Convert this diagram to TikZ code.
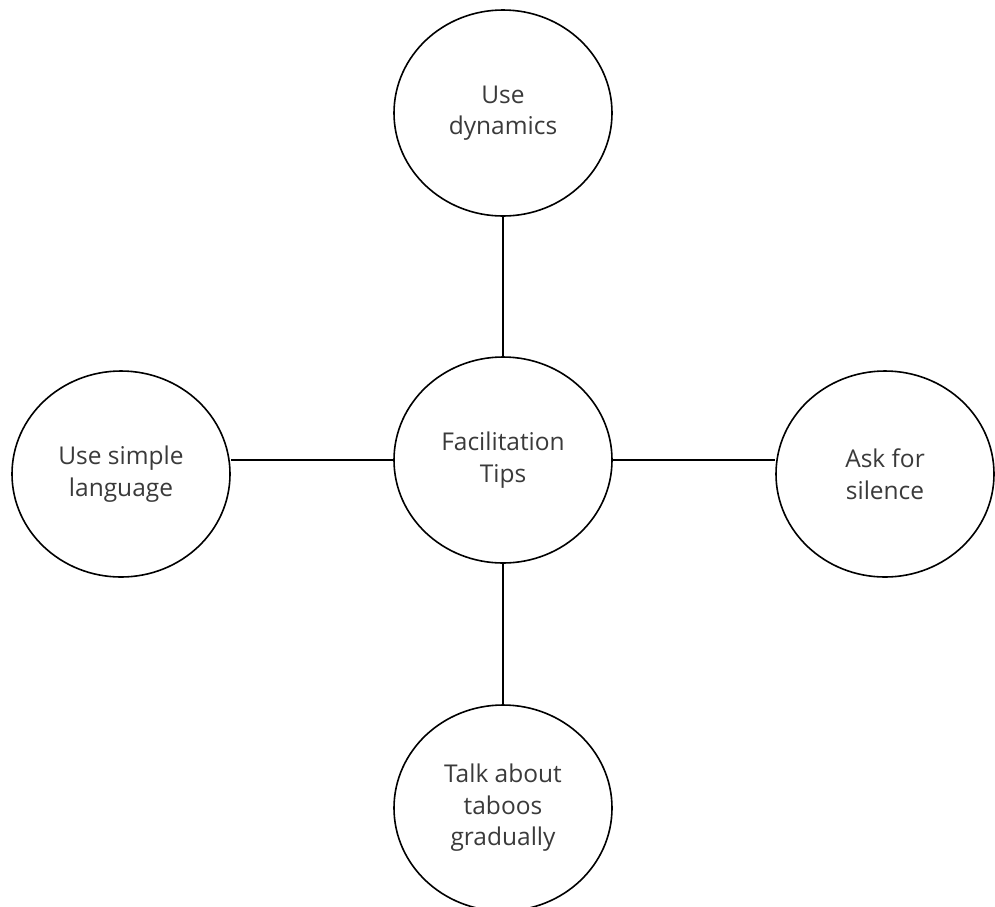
\documentclass[tikz,border=0pt]{standalone}
\usepackage{fontspec}
\setmainfont{Open Sans}
\usetikzlibrary{shapes.geometric}
\definecolor{txt}{HTML}{3A3A3A}
\begin{document}
\begin{tikzpicture}[x=1pt,y=-1pt,
  bubble/.style={ellipse,draw=black,line width=1.6pt,minimum width=218pt,minimum height=206pt,inner sep=0pt,
    align=center,text=txt,font=\fontsize{24.5}{31.5}\selectfont},
  link/.style={draw=black,line width=1.6pt}]
\useasboundingbox (0,0) rectangle (995,906);
\node[bubble] (c) at (503,460) {Facilitation\\Tips};
\node[bubble] (t) at (503,113) {Use\\dynamics};
\node[bubble] (l) at (121,474) {Use simple\\language};
\node[bubble] (r) at (885,474) {Ask for\\silence};
\node[bubble] (b) at (503,808) {Talk about\\taboos\\gradually};
\draw[link] (c.north) -- (t.south);
\draw[link] (c.south) -- (b.north);
\draw[link] (c.west) -- (c.west -| l.east);
\draw[link] (c.east) -- (c.east -| r.west);
\end{tikzpicture}
\end{document}
